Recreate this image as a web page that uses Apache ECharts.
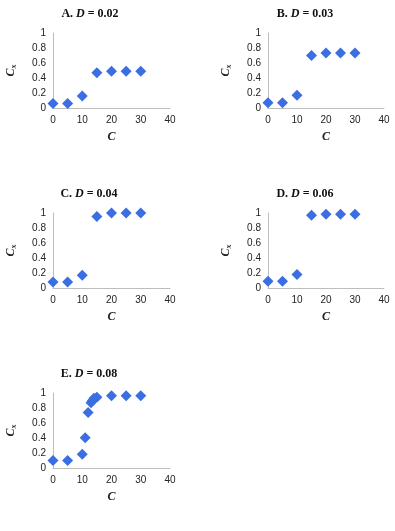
<!DOCTYPE html>
<html>
<head>
<meta charset="utf-8">
<script src="https://cdn.jsdelivr.net/npm/echarts@6/dist/echarts.min.js"></script>
<style>
  html, body { margin: 0; padding: 0; background: #fff; }
  #chart { width: 395px; height: 531px; }
</style>
</head>
<body>
<div id="chart"></div>
<script>
// panel labels and D values
const panelLetters = ['A', 'B', 'C', 'D', 'E'];
const dValues = ['0.02', '0.03', '0.04', '0.06', '0.08'];

// C (x) and Cx (y) for each panel
const cA = [0, 5, 10, 15, 20, 25, 30];
const yA = [0.06, 0.06, 0.16, 0.47, 0.49, 0.49, 0.49];
const cB = [0, 5, 10, 15, 20, 25, 30];
const yB = [0.07, 0.07, 0.17, 0.7, 0.735, 0.735, 0.735];
const cC = [0, 5, 10, 15, 20, 25, 30];
const yC = [0.08, 0.08, 0.17, 0.955, 1.0, 1.0, 1.0];
const cD = [0, 5, 10, 15, 20, 25, 30];
const yD = [0.09, 0.09, 0.18, 0.97, 0.985, 0.985, 0.985];
const cE = [0, 5, 10, 11, 12, 13, 13.5, 14, 15, 20, 25, 30];
const yE = [0.1, 0.1, 0.185, 0.405, 0.74, 0.87, 0.9, 0.93, 0.945, 0.965, 0.965, 0.965];

const xTicks = { min: 0, max: 40, interval: 10 };
const yTicks = { min: 0, max: 1, interval: 0.2 };

const panelX = [cA, cB, cC, cD, cE];
const panelY = [yA, yB, yC, yD, yE];

// layout of each plot area (px)
const boxes = [
  { left: 53, top: 33, width: 117, height: 75, titleX: 85, titleY: 3 },
  { left: 268, top: 33, width: 116, height: 75, titleX: 300, titleY: 3 },
  { left: 53, top: 213, width: 117, height: 75, titleX: 84, titleY: 183 },
  { left: 268, top: 213, width: 116, height: 75, titleX: 300, titleY: 183 },
  { left: 53, top: 393, width: 117, height: 75, titleX: 84, titleY: 363 }
];

const markerColor = '#3A6EE2';
const axisColor = '#BDBDBD';
const labelStyle = { color: '#222', fontSize: 10, fontFamily: 'Liberation Sans, Arial, sans-serif' };
const serif = 'Liberation Serif, Times New Roman, serif';

const grid = [], xAxis = [], yAxis = [], series = [], title = [];

boxes.forEach((b, i) => {
  grid.push({ left: b.left, top: b.top, width: b.width, height: b.height });

  xAxis.push({
    gridIndex: i, type: 'value',
    min: xTicks.min, max: xTicks.max, interval: xTicks.interval,
    axisLine: { show: true, lineStyle: { color: axisColor, width: 1 } },
    axisTick: { show: false },
    splitLine: { show: false },
    axisLabel: Object.assign({ margin: 7 }, labelStyle),
    name: 'C', nameLocation: 'middle', nameGap: 23,
    nameTextStyle: { fontFamily: serif, fontStyle: 'italic', fontWeight: 'bold', fontSize: 12, color: '#222' }
  });

  yAxis.push({
    gridIndex: i, type: 'value',
    min: yTicks.min, max: yTicks.max, interval: yTicks.interval,
    axisLine: { show: true, lineStyle: { color: axisColor, width: 1 } },
    axisTick: { show: false },
    splitLine: { show: false },
    axisLabel: Object.assign({ margin: 7 }, labelStyle),
    name: '{c|C}{s|x}', nameLocation: 'middle', nameGap: 35, nameRotate: 90,
    nameTextStyle: {
      rich: {
        c: { fontFamily: serif, fontStyle: 'italic', fontWeight: 'bold', fontSize: 12, color: '#222' },
        s: { fontFamily: serif, fontStyle: 'italic', fontWeight: 'bold', fontSize: 8, color: '#222', verticalAlign: 'bottom', padding: [6, 0, 0, 0] }
      }
    }
  });

  series.push({
    type: 'scatter', xAxisIndex: i, yAxisIndex: i,
    symbol: 'diamond', symbolSize: 11,
    itemStyle: { color: markerColor, opacity: 1 },
    data: panelX[i].map((x, k) => [x, panelY[i][k]])
  });

  title.push({
    left: b.titleX, top: b.titleY, textAlign: 'center',
    text: '{b|' + panelLetters[i] + '. }{i|D}{b| = ' + dValues[i] + '}',
    textStyle: {
      rich: {
        b: { fontFamily: serif, fontWeight: 'bold', fontSize: 12, color: '#111' },
        i: { fontFamily: serif, fontWeight: 'bold', fontStyle: 'italic', fontSize: 12, color: '#111' }
      }
    }
  });
});

const chart = echarts.init(document.getElementById('chart'));
chart.setOption({
  animation: false,
  backgroundColor: '#fff',
  title, grid, xAxis, yAxis, series
});
</script>
</body>
</html>
